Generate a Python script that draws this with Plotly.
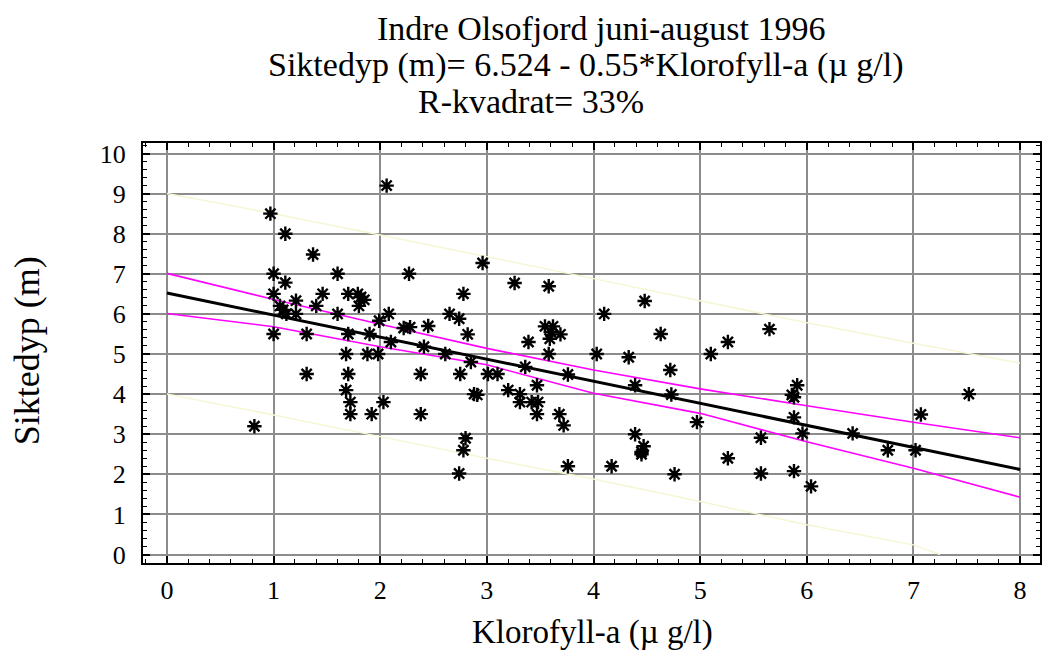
import plotly.graph_objects as go

# ---- data ----
klorofyll = [0.82, 0.97, 1.0, 1.0, 1.0, 1.06, 1.09, 1.12, 1.11, 1.11, 1.21, 1.21, 1.31, 1.31, 1.37, 1.40, 1.46,
             1.6, 1.6, 1.68, 1.70, 1.70, 1.70, 1.68, 1.72, 1.72, 1.79, 1.82, 1.85, 1.80, 1.90, 1.88, 1.92, 1.98, 1.99,
             2.03, 2.06, 2.08, 2.1, 2.22, 2.28, 2.27, 2.38, 2.38, 2.41, 2.45,
             2.61, 2.65, 2.74, 2.74, 2.75, 2.78, 2.78, 2.8, 2.82, 2.85, 2.88, 2.91, 2.96,
             3.01, 3.1, 3.2, 3.26, 3.31, 3.31, 3.36, 3.39, 3.42, 3.47, 3.47, 3.48,
             3.545, 3.58, 3.58, 3.59, 3.6, 3.62, 3.68, 3.69, 3.72, 3.76, 3.76,
             4.03, 4.1, 4.17, 4.33, 4.39, 4.39, 4.45, 4.45, 4.47, 4.48, 4.63, 4.72, 4.73, 4.76, 4.97,
             5.1, 5.26, 5.26, 5.57, 5.57, 5.65, 5.86, 5.88, 5.88, 5.88, 5.91, 5.96, 6.04, 6.43, 6.76, 7.02, 7.07, 7.52]
siktedyp = [3.2, 8.5, 7.0, 6.5, 5.5, 6.2, 6.1, 6.0, 6.78, 8.0, 6.0, 6.33, 5.5, 4.5, 7.48, 6.2, 6.5,
            7.0, 6.0, 5.0, 6.5, 5.5, 4.5, 4.1, 3.8, 3.5, 6.5, 6.42, 6.35, 6.2, 5.5, 5.0, 3.5, 5.0, 5.83,
            3.8, 9.2, 6.0, 5.3, 5.65, 5.67, 7.0, 4.5, 3.5, 5.18, 5.7,
            5.0, 6.0, 5.88, 2.02, 4.5, 6.5, 2.6, 2.9, 5.49, 4.8, 4.0, 3.98, 7.27,
            4.5, 4.5, 4.1, 6.77, 4.0, 3.8, 4.68, 5.3, 3.8, 4.22, 3.5, 3.8,
            5.69, 6.69, 5.0, 5.38, 5.55, 5.69, 3.5, 5.49, 3.22, 4.49, 2.2,
            5.0, 6.0, 2.2, 4.92, 4.22, 3.0, 2.5, 2.56, 2.7, 6.32, 5.5, 4.6, 3.99, 2.0, 3.3,
            5.0, 5.3, 2.4, 2.91, 2.02, 5.62, 3.98, 3.92, 3.42, 2.08, 4.22, 3.02, 1.7, 3.02, 2.6, 2.6, 3.49, 4.0]

line_x = [0, 1, 2, 3, 4, 5, 6, 7, 8]
fit_y = [6.52, 5.97, 5.42, 4.87, 4.32, 3.77, 3.22, 2.67, 2.12]
conf_upper = [7.01, 6.36, 5.74, 5.14, 4.60, 4.13, 3.71, 3.30, 2.91]
conf_lower = [6.01, 5.68, 5.18, 4.73, 4.02, 3.52, 2.81, 2.15, 1.43]
pred_upper = [9.0, 8.5, 7.97, 7.43, 6.88, 6.33, 5.78, 5.27, 4.77]
pred_lower_x = [0, 1, 2, 3, 4, 5, 6, 7, 7.25]
pred_lower = [4.0, 3.48, 2.94, 2.4, 1.88, 1.32, 0.74, 0.24, 0.0]

x_ticks = [0, 1, 2, 3, 4, 5, 6, 7, 8]
y_ticks = [0, 1, 2, 3, 4, 5, 6, 7, 8, 9, 10]

title_lines = ["Indre Olsofjord juni-august 1996",
               "Siktedyp (m)= 6.524 - 0.55*Klorofyll-a (µ g/l)",
               "R-kvadrat= 33%"]
x_title = "Klorofyll-a (µ g/l)"
y_title = "Siktedyp (m)"

FONT = "Liberation Serif"

fig = go.Figure()
fig.add_trace(go.Scatter(x=line_x, y=pred_upper, mode="lines",
                         line=dict(color="#f6f6d4", width=1.5), hoverinfo="skip"))
fig.add_trace(go.Scatter(x=pred_lower_x, y=pred_lower, mode="lines",
                         line=dict(color="#f6f6d4", width=1.5), hoverinfo="skip"))
fig.add_trace(go.Scatter(x=line_x, y=conf_upper, mode="lines",
                         line=dict(color="#ff00ff", width=1.6), hoverinfo="skip"))
fig.add_trace(go.Scatter(x=line_x, y=conf_lower, mode="lines",
                         line=dict(color="#ff00ff", width=1.6), hoverinfo="skip"))
fig.add_trace(go.Scatter(x=line_x, y=fit_y, mode="lines",
                         line=dict(color="black", width=3)))
fig.add_trace(go.Scatter(x=klorofyll, y=siktedyp, mode="markers",
                         marker=dict(symbol="asterisk-open", size=12, color="black",
                                     line=dict(color="black", width=2.4))))

axis_common = dict(
    showline=True, linecolor="black", linewidth=2, mirror="allticks",
    ticks="inside", ticklen=7, tickwidth=1.5, tickcolor="black",
    showgrid=True, gridcolor="#8c8c8c", gridwidth=2, zeroline=False,
    tickfont=dict(family=FONT, size=26, color="black"),
    minor=dict(dtick=0.2, ticks="inside", ticklen=4, tickwidth=1.2,
               tickcolor="black", showgrid=False),
)
fig.update_xaxes(range=[-0.2246, 8.187], tickvals=x_ticks, ticklabelstandoff=3, **axis_common)
fig.update_yaxes(range=[-0.212, 10.262], tickvals=y_ticks, ticklabelstandoff=10, **axis_common)

annos = []
title_pos = [(0.5117, 1.272), (0.4939, 1.186), (0.4321, 1.099)]
for txt, (px, py) in zip(title_lines, title_pos):
    annos.append(dict(text=txt, x=px, y=py, xref="paper", yref="paper",
                      xanchor="center", yanchor="middle", showarrow=False,
                      font=dict(family=FONT, size=34, color="black")))
annos.append(dict(text=x_title, x=(594 - 143) / 899, y=(563 - 632) / 420, xref="paper", yref="paper",
                  xanchor="center", yanchor="middle", showarrow=False,
                  font=dict(family=FONT, size=33, color="black")))
annos.append(dict(text=y_title, x=(27 - 143) / 899, y=(563 - 351) / 420, xref="paper", yref="paper",
                  xanchor="center", yanchor="middle", showarrow=False, textangle=-90,
                  font=dict(family=FONT, size=36, color="black")))

fig.update_layout(
    width=1042, height=652,
    margin=dict(l=143, r=0, t=143, b=89),
    plot_bgcolor="white", paper_bgcolor="white",
    showlegend=False, annotations=annos,
    font=dict(family=FONT),
)

fig.write_html("out.html", config={"displayModeBar": False},
               post_script="document.body.style.margin='0';")
